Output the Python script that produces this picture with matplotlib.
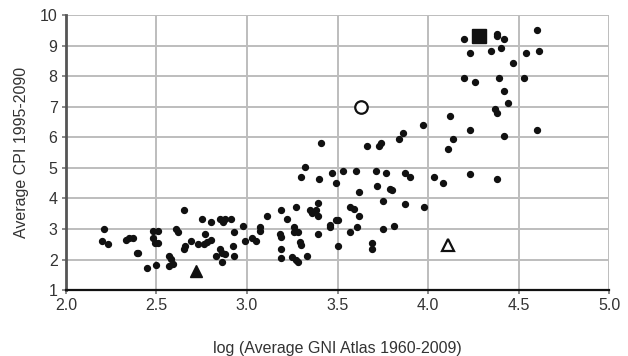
import matplotlib
matplotlib.use("Agg")
import matplotlib.pyplot as plt

plt.rcParams["font.family"] = ["Liberation Sans", "DejaVu Sans"]

GRID = "#bdbdbd"
INK = "#111111"

# countries: log average GNI vs average CPI
gni = [2.21, 2.20, 2.23, 2.33, 2.35, 2.37, 2.39, 2.40, 2.48, 2.51,
       2.48, 2.49, 2.51, 2.45, 2.50, 2.57, 2.58, 2.59, 2.57, 2.61,
       2.62, 2.65, 2.65, 2.66, 2.69, 2.73, 2.75, 2.77, 2.76, 2.78,
       2.80, 2.80, 2.85, 2.87, 2.88, 2.91, 2.83, 2.85, 2.86, 2.86,
       2.88, 2.92, 2.93, 2.93, 2.98, 2.99, 3.03, 3.05, 3.07, 3.07,
       3.11, 3.19, 3.27, 3.22, 3.18, 3.19, 3.19, 3.19, 3.26, 3.26,
       3.28, 3.29, 3.30, 3.25, 3.27, 3.28, 3.33, 3.32, 3.30, 3.41,
       3.66, 3.73, 3.74, 3.84, 3.86, 3.40, 3.47, 3.49, 3.53, 3.60,
       3.71, 3.77, 3.62, 3.72, 3.79, 3.75, 3.35, 3.36, 3.39, 3.39,
       3.38, 3.57, 3.59, 3.62, 3.61, 3.46, 3.49, 3.50, 3.46, 3.39,
       3.57, 3.75, 3.81, 3.50, 3.69, 3.69, 3.87, 3.90, 3.80, 3.87,
       3.98, 3.97, 4.12, 4.11, 4.14, 4.03, 4.08, 4.23, 4.38, 4.20,
       4.38, 4.38, 4.42, 4.60, 4.23, 4.35, 4.40, 4.54, 4.61, 4.47,
       4.20, 4.26, 4.39, 4.53, 4.42, 4.44, 4.37, 4.38, 4.23, 4.42,
       4.60]
cpi = [3.00, 2.60, 2.51, 2.64, 2.72, 2.72, 2.23, 2.21, 2.93, 2.93,
       2.72, 2.53, 2.53, 1.71, 1.82, 2.13, 2.03, 1.87, 1.79, 2.99,
       2.90, 3.62, 2.34, 2.44, 2.62, 2.52, 3.34, 2.82, 2.52, 2.59,
       2.65, 3.23, 3.34, 3.23, 3.34, 3.34, 2.13, 2.33, 2.23, 1.93,
       2.19, 2.44, 2.11, 2.91, 3.09, 2.62, 2.72, 2.60, 3.08, 2.93,
       3.42, 3.62, 3.73, 3.32, 2.83, 2.73, 2.34, 2.05, 3.08, 2.91,
       2.91, 2.58, 2.48, 2.08, 2.00, 1.93, 2.12, 5.03, 4.71, 5.82,
       5.71, 5.73, 5.82, 5.93, 6.13, 4.62, 4.82, 4.51, 4.90, 4.90,
       4.90, 4.82, 4.22, 4.40, 4.30, 3.90, 3.63, 3.53, 3.42, 3.84,
       3.63, 3.73, 3.64, 3.41, 3.08, 3.14, 3.29, 3.29, 3.07, 2.82,
       2.91, 2.99, 3.09, 2.43, 2.54, 2.36, 4.82, 4.71, 4.27, 3.81,
       3.73, 6.40, 6.70, 5.62, 5.94, 4.71, 4.50, 4.81, 4.62, 9.20,
       9.39, 9.30, 9.20, 9.51, 8.75, 8.83, 8.93, 8.75, 8.83, 8.44,
       7.93, 7.82, 7.93, 7.93, 7.52, 7.12, 6.91, 6.78, 6.24, 6.03,
       6.24]

# highlighted cases
square_pt = (4.28, 9.32)
circle_pt = (3.63, 7.00)
filled_tri = (2.72, 1.61)
open_tri = (4.11, 2.46)

xticks = [2.0, 2.5, 3.0, 3.5, 4.0, 4.5, 5.0]
yticks = list(range(1, 11))

fig = plt.figure(figsize=(6.28, 3.56), dpi=100)
ax = fig.add_axes([0.105, 0.185, 0.865, 0.773])

ax.set_xlim(2.0, 5.0)
ax.set_ylim(1, 10)
ax.set_xticks(xticks)
ax.set_xticklabels([f"{t:.1f}" for t in xticks])
ax.set_yticks(yticks)

ax.grid(True, color=GRID, lw=1.4)
ax.set_axisbelow(True)
for side in ("top", "right"):
    ax.spines[side].set_visible(False)
ax.spines["left"].set_color("#555555")
ax.spines["left"].set_linewidth(2.0)
ax.spines["bottom"].set_color(INK)
ax.spines["bottom"].set_linewidth(1.6)
ax.tick_params(axis="both", length=3, width=1.2, color="#777777",
               labelsize=11.5, labelcolor="#333333", pad=3)

ax.scatter(gni, cpi, s=18, color=INK, zorder=3, clip_on=False)
ax.plot(*square_pt, marker="s", ms=10, color=INK, zorder=4)
ax.plot(*circle_pt, marker="o", ms=9, mfc="white", mec=INK, mew=1.6, zorder=4)
ax.plot(*filled_tri, marker="^", ms=9, color=INK, zorder=4)
ax.plot(*open_tri, marker="^", ms=9, mfc="white", mec=INK, mew=1.6, zorder=4)

ax.set_xlabel("log (Average GNI Atlas 1960-2009)", fontsize=11.5,
              color="#333333", labelpad=20)
ax.set_ylabel("Average CPI 1995-2090", fontsize=11.5, color="#333333",
              labelpad=8)

fig.savefig("out.png", dpi=100, facecolor="white")
